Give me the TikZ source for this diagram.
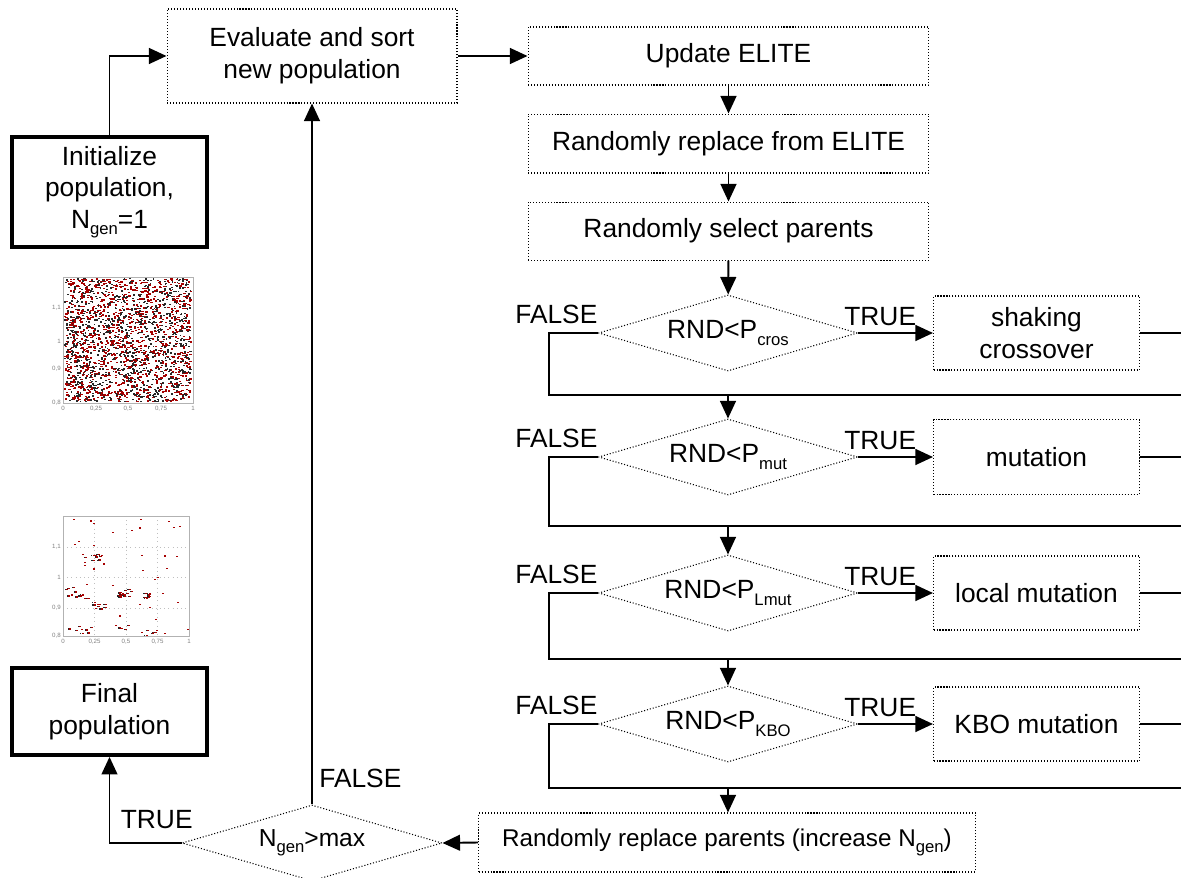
\documentclass[tikz,border=0pt]{standalone}
\usepackage{fontspec}
\setmainfont{Liberation Sans}
\usepackage{tikz}
\usetikzlibrary{shapes, arrows.meta, positioning, calc}

\newcommand{\lowsub}[1]{\raisebox{-0.45ex}{\fontsize{9.5}{9.5}\selectfont #1}}

\begin{document}
\begin{tikzpicture}[x=0.02cm, y=-0.02cm, font=\fontsize{15}{18}\selectfont,
    proc/.style={draw, dash pattern=on 0.6pt off 1.1pt, line width=0.6pt, align=center, inner sep=0pt},
    dec/.style={draw, diamond, aspect=3.4, dash pattern=on 0.6pt off 1.1pt, line width=0.6pt, minimum width=5.18cm, minimum height=1.52cm, inner sep=0pt},
    term/.style={draw, line width=2.2pt, align=center, minimum width=3.9cm, inner sep=0pt},
    flow/.style={line width=1.1pt},
    arr/.style={flow, -{Triangle[length=10pt, width=9pt]}},
    lbl/.style={anchor=base west, inner sep=0pt},
    tick/.style={font=\fontsize{3.5}{4}\selectfont, text=gray, inner sep=0.5pt}]

    \useasboundingbox (0,0) rectangle (1181,878);

    % Nodes
    \node[term, minimum height=2.2cm] (init) at (109.5,192) {Initialize\\population,\\N\lowsub{gen}=1};
    \node[term, minimum height=1.74cm] (final) at (109.5,711.5) {Final\\population};

    \node[proc, minimum width=5.8cm, minimum height=1.88cm] (eval) at (312,56) {Evaluate and sort\\new population};

    \node[proc, minimum width=8.02cm, minimum height=1.16cm] (elite) at (728.5,56) {Update ELITE};
    \node[proc, minimum width=8.02cm, minimum height=1.18cm, below=0.56cm of elite] (fromelite) {Randomly replace from ELITE};
    \node[proc, minimum width=8.02cm, minimum height=1.16cm, below=0.56cm of fromelite] (select) {Randomly select parents};

    \node[dec] (d1) at (728,333) {RND<P\lowsub{cros}};
    \node[dec] (d2) at (728,457) {RND<P\lowsub{mut}};
    \node[dec] (d3) at (728,593) {RND<P\lowsub{Lmut}};
    \node[dec] (d4) at (728,724) {RND<P\lowsub{KBO}};

    \node[proc, minimum width=4.12cm, minimum height=1.48cm, right=1.5cm of d1] (op1) {shaking\\crossover};
    \node[proc, minimum width=4.12cm, minimum height=1.5cm, right=1.5cm of d2] (op2) {mutation};
    \node[proc, minimum width=4.12cm, minimum height=1.48cm, right=1.5cm of d3] (op3) {local mutation};
    \node[proc, minimum width=4.12cm, minimum height=1.48cm, right=1.5cm of d4] (op4) {KBO mutation};

    \coordinate (m1) at (728,395);
    \coordinate (m2) at (728,526);
    \coordinate (m3) at (728,659);
    \coordinate (m4) at (728,788);

    \node[proc, minimum width=9.94cm, minimum height=1.18cm, font=\fontsize{13.8}{18}\selectfont] (rrp) at (727,842.5) {Randomly replace parents (increase N\lowsub{gen})};
    \node[dec, minimum width=5.2cm, font=\fontsize{14}{18}\selectfont] (ngen) at (312,843) {N\lowsub{gen}>max};

    % Interactions
    \draw[arr] (init.north) |- (eval.west);
    \draw[arr] (eval.east) -- (elite.west);
    \draw[arr] (elite) -- (fromelite);
    \draw[arr] (fromelite) -- (select);
    \draw[arr] (select) -- (d1);

    \foreach \i in {1,...,4} {
        \draw[arr] (d\i.east) -- (op\i.west);
        \draw[flow] (op\i.east) -- ++(45,0) |- (m\i);
        \draw[flow] (d\i.west) -- ++(-49,0) |- (m\i);
        \node[lbl] at ($(d\i.west)+(-83,-9)$) {FALSE};
        \node[lbl] at ($(d\i.east)+(-14,-7)$) {TRUE};
    }
    \draw[arr] (m1) -- (d2.north);
    \draw[arr] (m2) -- (d3.north);
    \draw[arr] (m3) -- (d4.north);
    \draw[arr] (m4) -- (m4 |- rrp.north);

    \draw[arr] (rrp.west) -- (ngen.east);
    \draw[arr] (ngen.north) -- (eval.south);
    \draw[arr] (ngen.west) -| (final.south);
    \node[lbl] at ($(ngen.north)+(7,-17)$) {FALSE};
    \node[lbl] at ($(ngen.west)+(-61,-15)$) {TRUE};

    % Population snapshots
    \pgfmathsetseed{4242}
    \foreach \i in {1,...,1100} {
        \pgfmathsetmacro\px{64+126*rnd}
        \pgfmathsetmacro\py{278+123*rnd}
        \fill[red!65!black] (\px,\py) rectangle ++(2.2,1.4);
        \pgfmathsetmacro\qx{64+126*rnd}
        \pgfmathsetmacro\qy{278+123*rnd}
        \fill[black!85] (\qx,\qy) rectangle ++(1.8,1.4);
    }
    \draw[gray!60, line width=0.5pt] (63,277) rectangle (193,403);

    \draw[gray!50, dotted, line width=0.4pt] (94.5,516) -- (94.5,636) (126,516) -- (126,636) (157.5,516) -- (157.5,636)
        (63,547) -- (189,547) (63,577) -- (189,577) (63,608) -- (189,608);
    \foreach \cx/\cy/\n/\s in {93/557/10/8, 125/593/16/8, 147/595/8/5, 77/593/10/12, 100/605/8/7, 80/632/8/13, 150/632/5/6, 125/627/4/6} {
        \foreach \k in {1,...,\n} {
            \pgfmathsetmacro\px{\cx+\s*(2*rnd-1)}
            \pgfmathsetmacro\py{\cy+0.5*\s*(2*rnd-1)}
            \fill[red!65!black] (\px,\py) rectangle ++(2,1.2);
            \fill[black!85] (\px-1.5,\py) rectangle ++(1.2,1.2);
        }
    }
    \foreach \i in {1,...,45} {
        \pgfmathsetmacro\px{65+122*rnd}
        \pgfmathsetmacro\py{518+116*rnd}
        \fill[red!65!black] (\px,\py) rectangle ++(2,1.2);
    }
    \draw[gray!60, line width=0.5pt] (63,516) rectangle (189,636);

    \foreach \t/\yy in {{1,1}/308, 1/341, {0,9}/369, {0,8}/403}
        \node[tick, anchor=east] at (62,\yy) {\t};
    \foreach \t/\xx in {0/63, {0,25}/96, {0,5}/128, {0,75}/161, 1/193}
        \node[tick, anchor=north] at (\xx,405) {\t};
    \foreach \t/\yy in {{1,1}/547, 1/577, {0,9}/608, {0,8}/636}
        \node[tick, anchor=east] at (62,\yy) {\t};
    \foreach \t/\xx in {0/63, {0,25}/94.5, {0,5}/126, {0,75}/157.5, 1/189}
        \node[tick, anchor=north] at (\xx,638) {\t};

\end{tikzpicture}
\end{document}
